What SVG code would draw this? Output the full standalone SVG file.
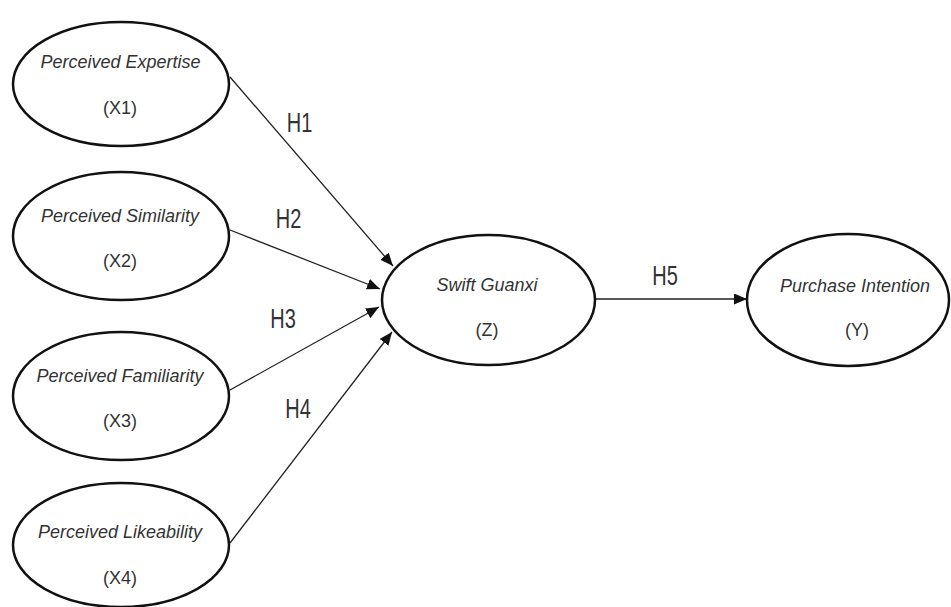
<svg xmlns="http://www.w3.org/2000/svg" width="951" height="607" viewBox="0 0 951 607">
<defs>
<marker id="ah" markerUnits="userSpaceOnUse" markerWidth="14" markerHeight="12" refX="13" refY="5.5" orient="auto">
<path d="M0,0 L13,5.5 L0,11 Z" fill="#111"/>
</marker>
<style>
.node ellipse{fill:#fff;stroke:#111;stroke-width:2.5}
.lbl{font-family:"Liberation Sans",Arial,sans-serif;font-style:italic;font-size:18px;fill:#333;text-anchor:middle}
.code{font-family:"Liberation Sans",Arial,sans-serif;font-size:18px;fill:#333;text-anchor:middle}
.h{font-family:"Liberation Sans",Arial,sans-serif;font-size:20px;fill:#333;text-anchor:middle}
.conn line{stroke:#222;stroke-width:1.3;marker-end:url(#ah)}
</style>
</defs>
<rect width="951" height="607" fill="#fff"/>
<g id="connectors" class="conn">
<line x1="230" y1="77" x2="393" y2="266"/>
<line x1="230" y1="230" x2="380" y2="289"/>
<line x1="230" y1="390" x2="379" y2="307"/>
<line x1="230" y1="543" x2="392" y2="332"/>
<line x1="595" y1="299" x2="747" y2="299"/>
</g>
<g id="labels">
<text class="h" transform="translate(299.5,132) scale(1,1.4)">H1</text>
<text class="h" transform="translate(288.5,228) scale(1,1.4)">H2</text>
<text class="h" transform="translate(283,328) scale(1,1.4)">H3</text>
<text class="h" transform="translate(298,418) scale(1,1.4)">H4</text>
<text class="h" transform="translate(665,285) scale(1,1.35)">H5</text>
</g>
<g id="x1" class="node">
<ellipse cx="121" cy="84" rx="108" ry="62"/>
<text class="lbl" x="120.5" y="68">Perceived Expertise</text>
<text class="code" x="120" y="114">(X1)</text>
</g>
<g id="x2" class="node">
<ellipse cx="121" cy="236" rx="108" ry="64"/>
<text class="lbl" x="120" y="222">Perceived Similarity</text>
<text class="code" x="120" y="267">(X2)</text>
</g>
<g id="x3" class="node">
<ellipse cx="121" cy="396" rx="108" ry="64"/>
<text class="lbl" x="120" y="382">Perceived Familiarity</text>
<text class="code" x="120" y="427">(X3)</text>
</g>
<g id="x4" class="node">
<ellipse cx="121" cy="545" rx="108" ry="62"/>
<text class="lbl" x="120" y="538">Perceived Likeability</text>
<text class="code" x="120" y="584">(X4)</text>
</g>
<g id="z" class="node">
<ellipse cx="488.5" cy="300" rx="106.5" ry="65"/>
<text class="lbl" x="487" y="291">Swift Guanxi</text>
<text class="code" x="487" y="336">(Z)</text>
</g>
<g id="y" class="node">
<ellipse cx="848" cy="300" rx="101" ry="66"/>
<text class="lbl" x="855" y="292">Purchase Intention</text>
<text class="code" x="857" y="336">(Y)</text>
</g>
</svg>
